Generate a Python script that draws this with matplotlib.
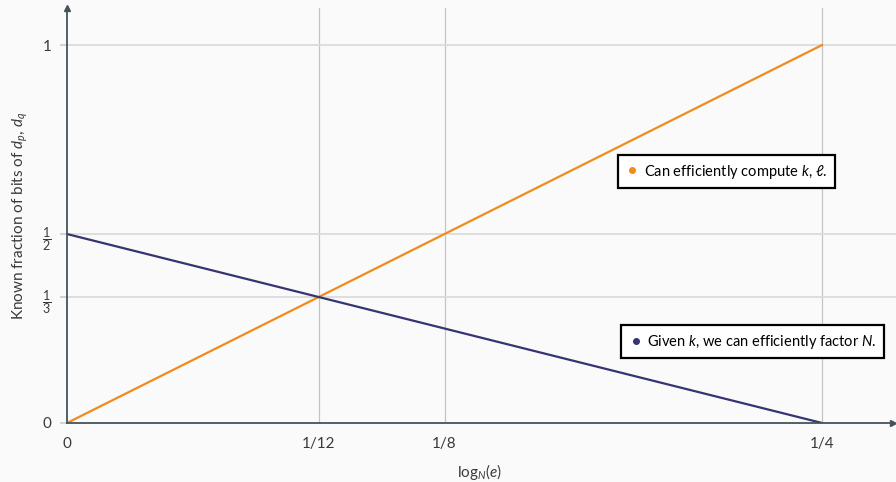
import numpy as np
import matplotlib.pyplot as plt
from matplotlib.lines import Line2D

# log_N(e) breakpoints and known fraction of bits
x_vals = [0, 1/12, 1/8, 1/4]
compute_kl = [0, 1/3, 1/2, 1]       # can efficiently compute k, l
factor_n = [1/2, 1/3, 1/4, 0]       # given k, we can efficiently factor N

xtick_pos = [0, 1/12, 1/8, 1/4]
xtick_labels = ["0", "1/12", "1/8", "1/4"]
ytick_pos = [0, 1/3, 1/2, 1]
ytick_labels = ["0", r"$\dfrac{1}{3}$", r"$\dfrac{1}{2}$", "1"]

orange = "#f28a1e"
navy = "#35356f"
axis_col = "#44545a"
text_col = "#3a3a3a"
bg = "#fafafa"

plt.rcParams.update({
    'font.family': ['Lato', 'DejaVu Sans'],
    'font.size': 9,
    'mathtext.fontset': 'custom',
    'mathtext.rm': 'Lato',
    'mathtext.it': 'Lato:italic',
    'mathtext.bf': 'Lato:bold',
    'mathtext.fallback': 'stixsans',
})

fig = plt.figure(figsize=(8.96, 4.82), dpi=100, facecolor=bg)
ax = fig.add_axes([67/896, 59/482, 826/896, 415/482])
ax.set_facecolor(bg)

ax.set_xlim(0, 0.2735)
ax.set_ylim(0, 1.098)

# grid: vertical lines at x ticks, lighter horizontal lines at y ticks
for xv in xtick_pos[1:]:
    ax.axvline(xv, color="#c4c4c4", lw=0.9, zorder=1)
for yv in ytick_pos[1:]:
    ax.axhline(yv, color="#dcdcdc", lw=1.3, zorder=1, clip_on=False,
               xmin=-0.006, xmax=1.004)

ax.plot(x_vals, compute_kl, color=orange, lw=1.6, zorder=3)
ax.plot(x_vals, factor_n, color=navy, lw=1.6, zorder=3)

# axes with arrow heads
for s in ["top", "right"]:
    ax.spines[s].set_visible(False)
for s in ["left", "bottom"]:
    ax.spines[s].set_color(axis_col)
    ax.spines[s].set_linewidth(1.3)
    ax.spines[s].set_zorder(4)
ax.plot(1, 0, ">", color=axis_col, ms=5, transform=ax.get_yaxis_transform(), clip_on=False, zorder=5)
ax.plot(0, 1, "^", color=axis_col, ms=5, transform=ax.get_xaxis_transform(), clip_on=False, zorder=5)

ax.set_xticks(xtick_pos)
ax.set_xticklabels(xtick_labels, color=text_col, fontsize=11)
ax.tick_params(axis="x", length=0, pad=10)
ax.set_yticks(ytick_pos)
ax.set_yticklabels(ytick_labels, color=text_col, fontsize=11)
ax.tick_params(axis="y", length=5, color="#d0d0d0", width=1.3, pad=6)
for lbl in ax.get_yticklabels()[1:3]:
    lbl.set_fontsize(9)

ax.set_xlabel(r"$\mathrm{log}_N(e)$", color=text_col, fontsize=11, labelpad=8)
ax.set_ylabel(r"Known fraction of bits of $d_p$, $d_q$", color=text_col, fontsize=11, labelpad=9)

# two separate legend boxes
h1 = [Line2D([], [], ls="", marker="o", ms=4, color=orange)]
h2 = [Line2D([], [], ls="", marker="o", ms=4, color=navy)]
leg_kw = dict(loc="center", frameon=True, fancybox=False, edgecolor="black",
              handletextpad=0.3, borderpad=0.5, fontsize=10.5, handlelength=1.0,
              framealpha=1, facecolor="white")
leg1 = ax.legend(h1, [r"Can efficiently compute $k$, $\ell$."],
                 bbox_to_anchor=(0.798, 0.606), **leg_kw)
leg1.get_frame().set_linewidth(1.6)
ax.add_artist(leg1)
leg2 = ax.legend(h2, [r"Given $k$, we can efficiently factor $N$."],
                 bbox_to_anchor=(0.830, 0.196), **leg_kw)
leg2.get_frame().set_linewidth(1.6)

fig.savefig("out.png", dpi=100, facecolor=bg)
